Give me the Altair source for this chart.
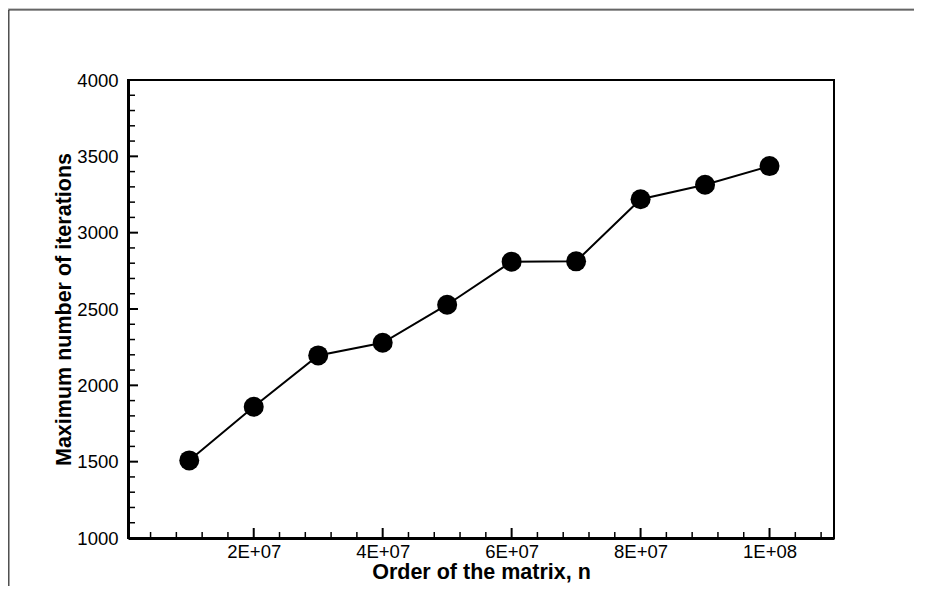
import json
import altair as alt
import numpy as np
import pandas as pd

# ---- data ----
n_values = [1e7, 2e7, 3e7, 4e7, 5e7, 6e7, 7e7, 8e7, 9e7, 1e8]
max_iterations = [1508, 1860, 2196, 2279, 2528, 2810, 2812, 3219, 3314, 3436]

x_major_ticks = [2e7, 4e7, 6e7, 8e7, 1e8]
x_tick_labels = ["2E+07", "4E+07", "6E+07", "8E+07", "1E+08"]
x_minor_ticks = [float(v) for v in np.arange(4e6, 1.1e8, 4e6) if int(round(v)) % 20000000 != 0]

y_major_ticks = [1000, 1500, 2000, 2500, 3000, 3500, 4000]
y_minor_ticks = [v for v in range(1100, 4000, 100) if v % 500 != 0]

df = pd.DataFrame({"n": n_values, "iters": max_iterations})

FONT = "Liberation Sans"
LABEL_SIZE = 18.5
TITLE_SIZE = 21.5
W, H = 706, 458
PAD = {"left": 120, "top": 72, "right": 80, "bottom": 48}

xscale = alt.Scale(domain=[5e5, 1.1e8], nice=False, zero=False)
yscale = alt.Scale(domain=[1000, 4000], nice=False, zero=False)

label_expr = "{}[indexof({}, datum.value)]".format(
    json.dumps(x_tick_labels).replace('"', "'"),
    json.dumps([int(v) for v in x_major_ticks]),
)

main = alt.Chart(df).mark_line(
    color="black",
    strokeWidth=2,
    point=alt.OverlayMarkDef(size=400, color="black", filled=True, opacity=1),
).encode(
    x=alt.X(
        "n:Q",
        scale=xscale,
        axis=alt.Axis(
            values=x_major_ticks,
            labelExpr=label_expr,
            ticks=False,
            grid=False,
            domainWidth=3,
            domainColor="black",
            labelFont=FONT,
            labelFontSize=LABEL_SIZE,
            labelColor="black",
            labelPadding=4,
            labelFlush=False,
            title="Order of the matrix, n",
            titleFont=FONT,
            titleFontSize=TITLE_SIZE,
            titleFontWeight="bold",
            titleColor="black",
            titlePadding=1,
        ),
    ),
    y=alt.Y(
        "iters:Q",
        scale=yscale,
        axis=alt.Axis(
            values=y_major_ticks,
            format="d",
            ticks=False,
            grid=False,
            domainWidth=3,
            domainColor="black",
            labelFont=FONT,
            labelFontSize=LABEL_SIZE,
            labelColor="black",
            labelPadding=10,
            title="Maximum number of iterations",
            titleFont=FONT,
            titleFontSize=TITLE_SIZE,
            titleFontWeight="bold",
            titleColor="black",
            titlePadding=1,
        ),
    ),
)


def x_tick_rules(values, size, width):
    return alt.Chart(pd.DataFrame({"v": values})).mark_rule(color="black", strokeWidth=width).encode(
        x=alt.X("v:Q", scale=xscale),
        y=alt.value(H),
        y2=alt.value(H - size),
    )


def y_tick_rules(values, size, width):
    return alt.Chart(pd.DataFrame({"v": values})).mark_rule(color="black", strokeWidth=width).encode(
        y=alt.Y("v:Q", scale=yscale),
        x=alt.value(0),
        x2=alt.value(size),
    )


ticks = [
    x_tick_rules(x_major_ticks, 10, 2),
    x_tick_rules(x_minor_ticks, 6, 1.5),
    y_tick_rules(y_major_ticks, 10, 2),
    y_tick_rules(y_minor_ticks, 7, 1.5),
]

one = alt.Chart(alt.Data(values=[{"k": 0}]))
top_gray = one.mark_rule(color="#c8c8c8", strokeWidth=1).encode(
    x=alt.value(-PAD["left"]), x2=alt.value(W + PAD["right"]), y=alt.value(-PAD["top"] + 0.5)
)
top_dark = one.mark_rule(color="#333333", strokeWidth=1.3).encode(
    x=alt.value(-PAD["left"] + 0.5), x2=alt.value(W + PAD["right"]), y=alt.value(-PAD["top"] + 1.8)
)
left_dark = one.mark_rule(color="#333333", strokeWidth=1.3).encode(
    x=alt.value(-PAD["left"] + 0.8), y=alt.value(-PAD["top"] + 1.8), y2=alt.value(H + PAD["bottom"])
)

chart = (
    alt.layer(main, *ticks, top_gray, top_dark, left_dark)
    .properties(
        width=W,
        height=H,
        padding=PAD,
        autosize=alt.AutoSizeParams(type="none"),
        background="white",
    )
    .configure_view(stroke="black", strokeWidth=2)
)

chart.save("out.html", embed_options={"renderer": "svg", "actions": False})
